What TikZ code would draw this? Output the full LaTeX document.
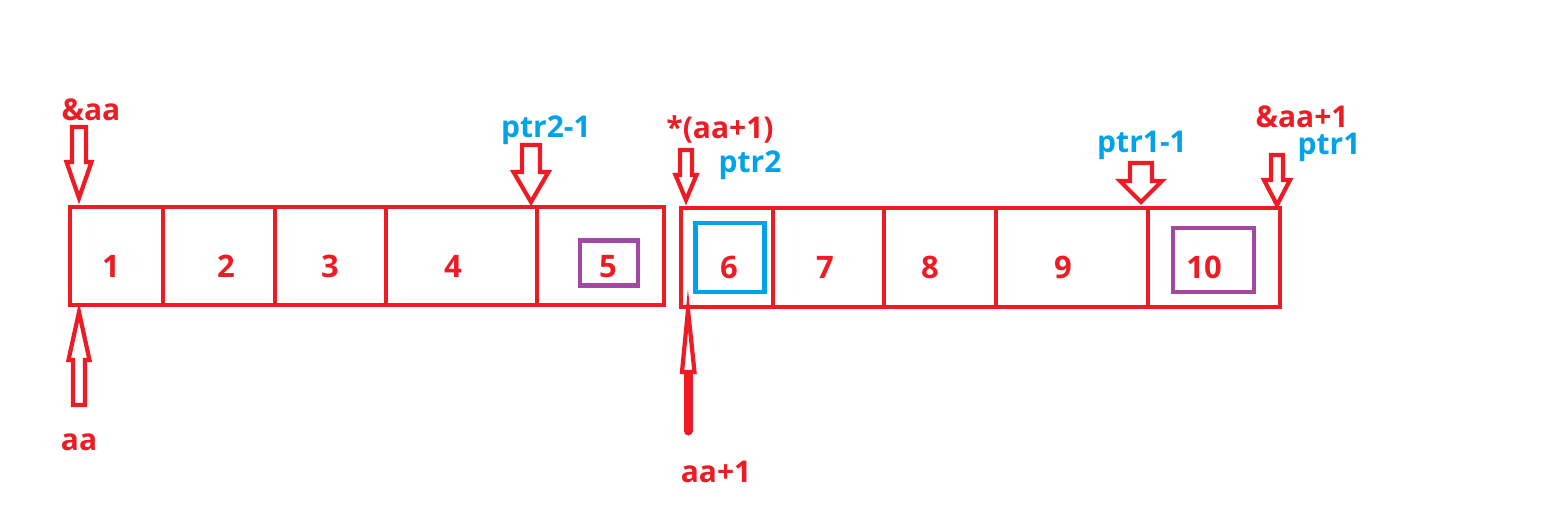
\documentclass[tikz,border=0pt]{standalone}
\usepackage{fontspec}
\setmainfont{Open Sans}[BoldFont={* Bold}]
\definecolor{pred}{HTML}{ED1C24}
\definecolor{pblue}{HTML}{00A2E8}
\definecolor{ppurple}{HTML}{A349A4}
\newcommand\blkarrow[6]{% x, shaft end, head base, tip, shaft half, head half
  \draw[arrowline] ({#1-#5},#2) -- ({#1+#5},#2) -- ({#1+#5},#3) -- ({#1+#6},#3)
    -- (#1,#4) -- ({#1-#6},#3) -- ({#1-#5},#3) -- cycle;}
\tikzset{
  cellline/.style={draw=pred, line width=2.4pt, line join=miter},
  arrowline/.style={draw=pred, line width=2.1pt, fill=white, line join=miter},
  num/.style={text=pred, font=\bfseries\fontsize{15.5}{18}\selectfont, inner sep=0pt, anchor=base},
  lblr/.style={text=pred, font=\bfseries\fontsize{15}{18}\selectfont, inner sep=0pt, anchor=base},
  lblb/.style={text=pblue, font=\bfseries\fontsize{15}{18}\selectfont, inner sep=0pt, anchor=base},
  purplesq/.style={draw=ppurple, line width=2.2pt, inner sep=0pt},
  bluesq/.style={draw=pblue, line width=2.2pt, inner sep=0pt},
}
\begin{document}
\begin{tikzpicture}[x=0.5pt, y=-0.5pt]
\useasboundingbox (0,0) rectangle (1565,514);
% left array
\draw[cellline] (70,207) rectangle (664,305);
\foreach \xx in {163,275,386,537} \draw[cellline] (\xx,207) -- (\xx,305);
% right array
\draw[cellline] (681,208) rectangle (1280,307);
\foreach \xx in {773,884,996,1148} \draw[cellline] (\xx,208) -- (\xx,307);
% highlight squares
\node[purplesq, minimum width=29pt, minimum height=22.5pt] (s5) at (609,263) {};
\node[bluesq, minimum width=34.5pt, minimum height=34.5pt] (s6) at (730,257.5) {};
\node[purplesq, minimum width=40.5pt, minimum height=32pt] (s10) at (1213.5,260) {};
% numbers
\node[num] (n1) at (111,277) {1};
\node[num] (n2) at (226,277) {2};
\node[num] (n3) at (330,277) {3};
\node[num] (n4) at (453,277) {4};
\node[num] (n5) at (608,277) {5};
\node[num] (n6) at (729,278) {6};
\node[num] (n7) at (825,278) {7};
\node[num] (n8) at (930,278) {8};
\node[num] (n9) at (1063,278) {9};
\node[num] (n10) at (1204,278) {10};
% arrows
\blkarrow{79}{127}{162}{198}{7}{12.5}
\blkarrow{79}{405}{360}{312}{6}{10.5}
\blkarrow{531}{145}{172}{202}{9}{17.5}
\blkarrow{686}{150}{175}{200}{6}{10.5}
\blkarrow{1141}{163}{181}{202}{11}{21}
\blkarrow{1277}{155}{180}{205}{6}{13}
% aa+1 arrow
\coordinate (tipb) at (688,310);
\coordinate (baseb) at (688,372);
\coordinate (endb) at (688,431);
\draw[pred, line width=4.5pt, line cap=round] (baseb) -- (endb);
\draw[arrowline] (tipb) -- (694.5,372) -- (682,372) -- cycle;
% labels
\node[lblr] (laa) at (91,120) {\&aa};
\node[lblr] (laa0) at (79,450) {aa};
\node[lblb] (lp2m) at (546,137) {ptr2-1};
\node[lblr] (lstar) at (720,138) {*(aa+1)};
\node[lblb] (lp2) at (750,172) {ptr2};
\node[lblr] (laa1) at (716,482) {aa+1};
\node[lblb] (lp1m) at (1142,152) {ptr1-1};
\node[lblr] (laap) at (1302,127) {\&aa+1};
\node[lblb] (lp1) at (1329,154) {ptr1};
\end{tikzpicture}
\end{document}
